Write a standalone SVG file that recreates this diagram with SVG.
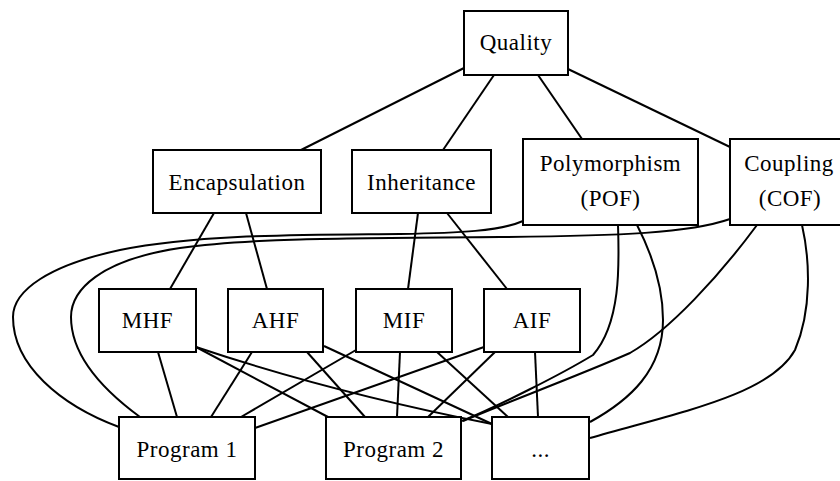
<svg xmlns="http://www.w3.org/2000/svg" width="840" height="481" viewBox="0 0 840 481">
<style>
.n rect{fill:#fff;stroke:#000;stroke-width:2}
.n text{font-family:"Liberation Serif","Times New Roman",serif;font-size:23px;letter-spacing:0.5px;text-anchor:middle;fill:#000}
#edges path{fill:none;stroke:#000;stroke-width:2}
</style>
<rect width="840" height="481" fill="#fff"/>
<g id="edges">
<path d="M464,68 L301,150"/>
<path d="M494,75 L443,150"/>
<path d="M538,75 L582,139"/>
<path d="M568,69 L730,147"/>
<path d="M214,213 L170,289"/>
<path d="M246,213 L267,289"/>
<path d="M418,213 L408,289"/>
<path d="M447,213 L507,289"/>
<path d="M523,221 C500,231 460,233 400,234 C300,235 200,234 120,250 C50,265 13,290 13,317 C13,365 60,405 119,427"/>
<path d="M730,219 C690,233 620,236 500,237 C350,238 250,238 180,248 C100,260 71,290 71,317 C71,360 110,395 140,417"/>
<path d="M618,225 C619,260 622,322 593,355 C560,375 500,405 462,421"/>
<path d="M757,225 C720,275 670,330 630,353 C580,375 500,405 463,421"/>
<path d="M637,225 C655,260 663,290 663,320 C663,370 630,400 590,422"/>
<path d="M802,225 C810,260 812,310 795,350 C770,395 680,412 590,438"/>
<path d="M158,352 L177,417"/>
<path d="M196,347 L328,417"/>
<path d="M196,347 Q330,392 492,424"/>
<path d="M252,352 L211,417"/>
<path d="M307,352 L365,417"/>
<path d="M324,346 L492,424"/>
<path d="M356,350 L241,417"/>
<path d="M400,352 L397,417"/>
<path d="M437,352 L508,417"/>
<path d="M484,347 L255,428"/>
<path d="M495,352 L428,417"/>
<path d="M535,352 L538,417"/>
</g>
<g id="quality" class="n"><rect x="464" y="11" width="104" height="64"/><text x="516" y="50">Quality</text></g>
<g id="encapsulation" class="n"><rect x="153" y="150" width="168" height="63"/><text x="237" y="190">Encapsulation</text></g>
<g id="inheritance" class="n"><rect x="352" y="150" width="139" height="63"/><text x="421.5" y="190">Inheritance</text></g>
<g id="polymorphism" class="n"><rect x="523" y="139" width="175" height="86"/><text x="610.5" y="171">Polymorphism</text><text x="610.5" y="206">(POF)</text></g>
<g id="coupling" class="n"><rect x="730" y="139" width="120" height="86"/><text x="789" y="171">Coupling</text><text x="790" y="206">(COF)</text></g>
<g id="mhf" class="n"><rect x="99" y="289" width="97" height="63"/><text x="147.5" y="328">MHF</text></g>
<g id="ahf" class="n"><rect x="228" y="289" width="95" height="63"/><text x="275.5" y="328">AHF</text></g>
<g id="mif" class="n"><rect x="356" y="289" width="96" height="63"/><text x="404" y="328">MIF</text></g>
<g id="aif" class="n"><rect x="484" y="289" width="96" height="63"/><text x="532" y="328">AIF</text></g>
<g id="program1" class="n"><rect x="119" y="417" width="136" height="62"/><text x="187" y="457">Program 1</text></g>
<g id="program2" class="n"><rect x="326" y="417" width="135" height="62"/><text x="393.5" y="457">Program 2</text></g>
<g id="more" class="n"><rect x="492" y="417" width="97" height="62"/><text x="540.5" y="457">...</text></g>
</svg>
